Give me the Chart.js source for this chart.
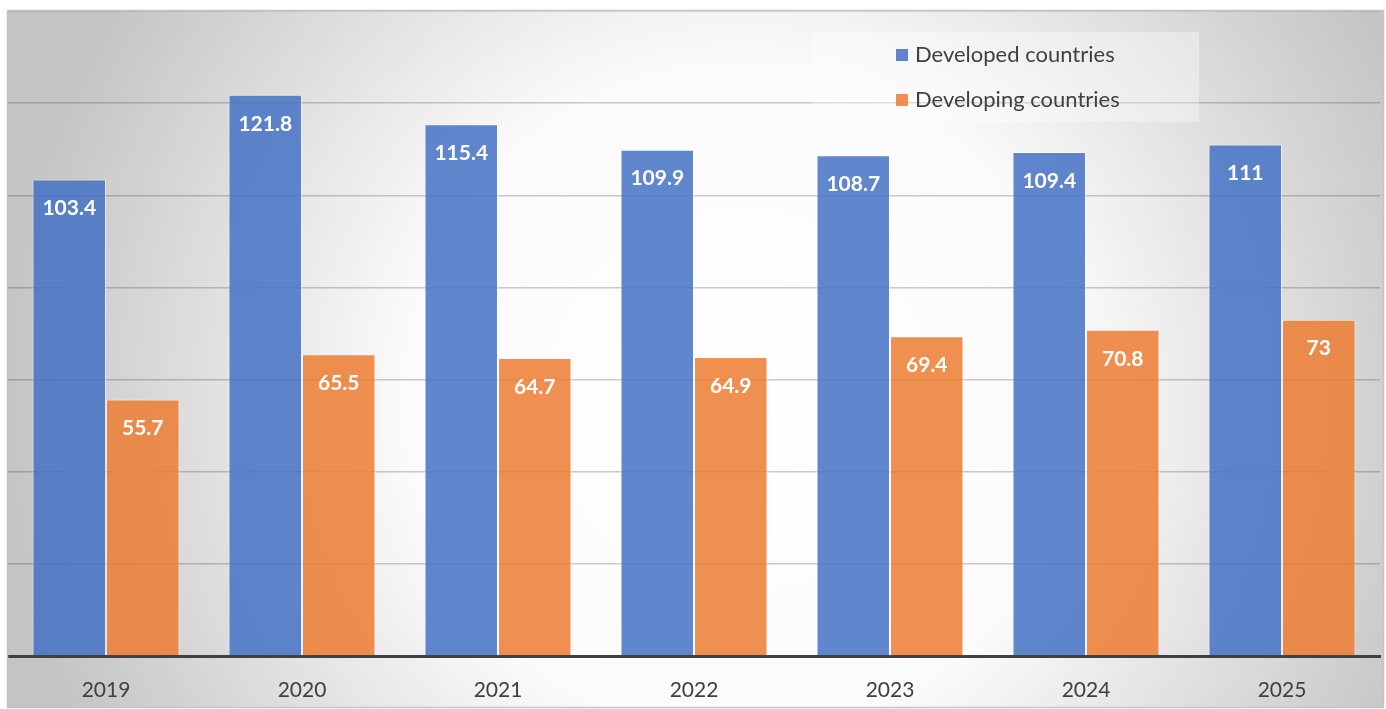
<!DOCTYPE html>
<html>
<head>
<meta charset="utf-8">
<script src="https://cdn.jsdelivr.net/npm/chart.js@4"></script>
<style>
  html, body { margin: 0; padding: 0; background: #fff; }
  canvas { display: block; }
</style>
</head>
<body>
<canvas id="chart" width="1386" height="709"></canvas>
<script>
const years = ["2019", "2020", "2021", "2022", "2023", "2024", "2025"];
const developed = [103.4, 121.8, 115.4, 109.9, 108.7, 109.4, 111];
const developing = [55.7, 65.5, 64.7, 64.9, 69.4, 70.8, 73];
const seriesNames = ["Developed countries", "Developing countries"];

const FONT = "Lato, 'Open Sans', sans-serif";
const TEXT = "#404040";

// grey-to-white radial background and outer frame
const backdrop = {
  id: "backdrop",
  beforeDraw(chart) {
    const ctx = chart.ctx;
    ctx.save();
    const g = ctx.createRadialGradient(740, 400, 0, 740, 400, 740);
    g.addColorStop(0, "#ffffff");
    g.addColorStop(0.45, "#fbfbfb");
    g.addColorStop(1, "#c4c4c4");
    ctx.fillStyle = g;
    ctx.fillRect(8, 11, 1375, 697);
    ctx.restore();
  },
  afterDraw(chart) {
    const ctx = chart.ctx;
    ctx.save();
    ctx.strokeStyle = "#c4c4c4";
    ctx.lineWidth = 1.5;
    ctx.strokeRect(7.5, 10.5, 1376, 697);
    ctx.restore();
  }
};

// white value labels inside the top of each bar
const barLabels = {
  id: "barLabels",
  afterDatasetsDraw(chart) {
    const ctx = chart.ctx;
    ctx.save();
    ctx.font = "bold 21px " + FONT;
    ctx.fillStyle = "#ffffff";
    ctx.textAlign = "center";
    ctx.textBaseline = "middle";
    chart.data.datasets.forEach((ds, i) => {
      chart.getDatasetMeta(i).data.forEach((bar, j) => {
        ctx.fillText(String(ds.data[j]), bar.x, bar.y + 29);
      });
    });
    ctx.restore();
  }
};

// legend box sitting over the plot, top right
const boxLegend = {
  id: "boxLegend",
  afterDraw(chart) {
    const ctx = chart.ctx;
    ctx.save();
    ctx.fillStyle = "rgba(255,255,255,0.35)";
    ctx.fillRect(813, 32, 386, 90);
    ctx.font = "22px " + FONT;
    ctx.textBaseline = "middle";
    chart.data.datasets.forEach((ds, i) => {
      const y = 55 + i * 45;
      ctx.fillStyle = ds.backgroundColor;
      ctx.fillRect(896, y - 6, 12, 12);
      ctx.fillStyle = TEXT;
      ctx.fillText(ds.label, 915, y);
    });
    ctx.restore();
  }
};

new Chart(document.getElementById("chart"), {
  type: "bar",
  data: {
    labels: years,
    datasets: [
      {
        label: seriesNames[0],
        data: developed,
        backgroundColor: "rgba(68,114,196,0.85)",
        borderColor: "rgba(255,255,255,0.5)",
        borderWidth: 1,
      },
      {
        label: seriesNames[1],
        data: developing,
        backgroundColor: "rgba(237,125,49,0.85)",
        borderColor: "rgba(255,255,255,0.5)",
        borderWidth: 1,
      },
    ],
  },
  options: {
    responsive: false,
    animation: false,
    events: [],
    layout: { padding: { left: 8, right: 6, top: 11, bottom: 0 } },
    datasets: { bar: { categoryPercentage: 0.75, barPercentage: 1 } },
    plugins: { legend: { display: false }, tooltip: { enabled: false } },
    scales: {
      x: {
        grid: { display: false },
        border: { display: true, color: "#404040", width: 3 },
        ticks: { color: TEXT, font: { family: FONT, size: 21 }, padding: 14 },
        afterFit(scale) { scale.height = 53; },
      },
      y: {
        min: 0,
        max: 140,
        ticks: { display: false, stepSize: 20 },
        grid: { color: "rgba(0,0,0,0.2)", lineWidth: 1.5, drawTicks: false },
        border: { display: false },
        afterFit(scale) { scale.width = 0; },
      },
    },
  },
  plugins: [backdrop, barLabels, boxLegend],
});
</script>
</body>
</html>
